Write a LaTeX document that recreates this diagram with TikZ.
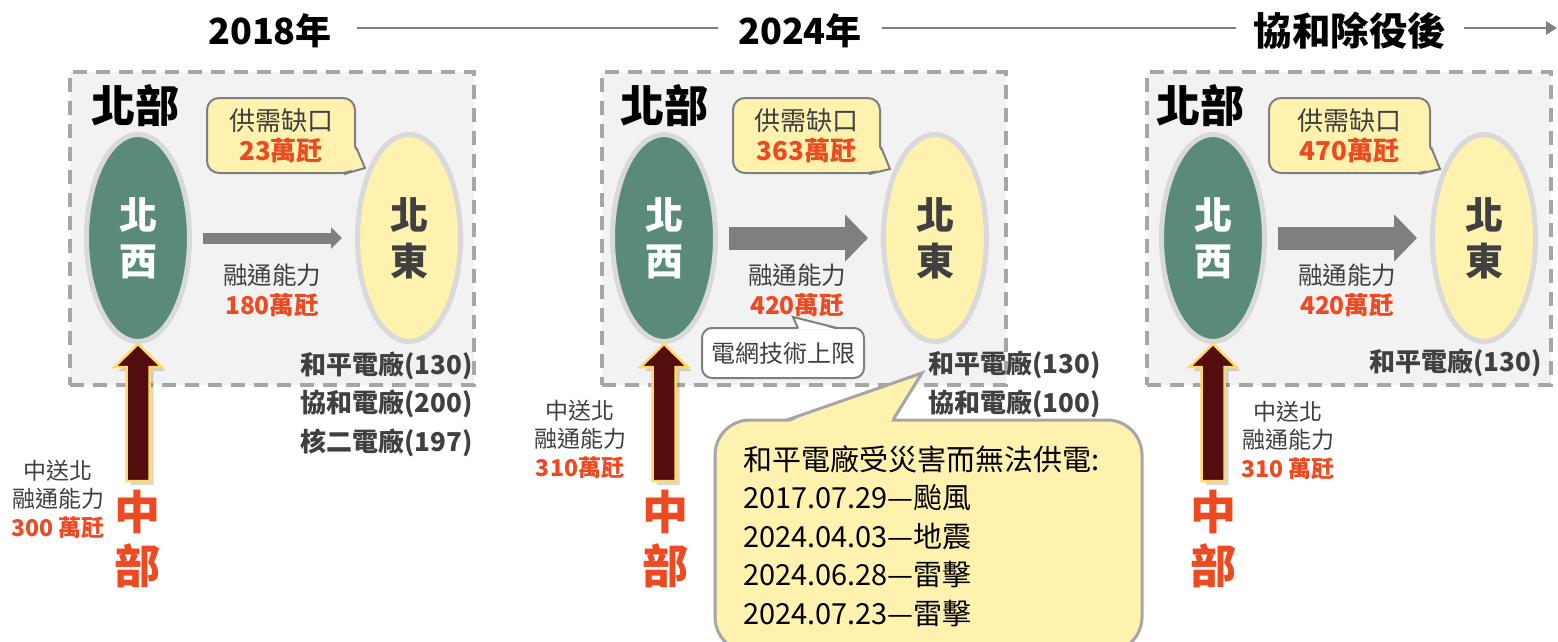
\documentclass[tikz,border=0pt]{standalone}
\usepackage{fontspec}
\setmainfont{Noto Sans CJK TC}
\usetikzlibrary{shapes.geometric,arrows.meta,calc}
\definecolor{nwgreen}{HTML}{5A8B78}
\definecolor{neyellow}{HTML}{FFF2AE}
\definecolor{ellborder}{HTML}{D9D9D9}
\definecolor{panelgray}{HTML}{F2F2F2}
\definecolor{dashgray}{HTML}{A6A6A6}
\definecolor{darktext}{HTML}{404040}
\definecolor{numred}{HTML}{EE4A22}
\definecolor{arrowgray}{HTML}{7F7F7F}
\definecolor{updark}{HTML}{540D0E}
\definecolor{upborder}{HTML}{FFD966}
\definecolor{callborder}{HTML}{7F7F7F}
\newcommand\rednum[1]{{\color{numred}\bfseries #1}}
\tikzset{
  panel/.style={draw=dashgray, fill=panelgray, line width=4pt, dash pattern=on 14pt off 9pt, minimum width=404pt, minimum height=313pt, inner sep=0pt},
  region/.style={font=\bfseries\fontsize{44}{50}\selectfont, text=black, inner sep=0pt},
  ellbase/.style={ellipse, draw=ellborder, line width=5pt, minimum width=103pt, minimum height=207pt, align=center, font=\bfseries\fontsize{38}{46}\selectfont, inner sep=0pt},
  nwell/.style={ellbase, fill=nwgreen, text=white},
  neell/.style={ellbase, fill=neyellow, text=darktext},
  gapbox/.style={draw=callborder, fill=neyellow, line width=2pt, rounded corners=12pt, minimum height=75pt, align=center, font=\fontsize{26}{30}\selectfont, text=darktext, inner sep=0pt},
  gaptail/.style={draw=callborder, line width=2pt, line join=miter},
  flowarrow/.style={draw=arrowgray, line width=23pt, -{Triangle[length=23pt,width=46pt]}, shorten <=11pt, shorten >=13pt},
  flowthin/.style={draw=arrowgray, line width=11pt, -{Triangle[length=11pt,width=21pt]}, shorten <=11pt, shorten >=13pt},
  flowtext/.style={align=center, font=\fontsize{24.5}{30}\selectfont, text=darktext, inner sep=0pt},
  plants/.style={align=right, anchor=east, font=\bfseries\fontsize{26}{38.5}\selectfont, text=darktext, inner sep=0pt},
  uparrow/.style={fill=updark, draw=upborder, line width=2.5pt, line join=miter},
  upshadow/.style={fill=black, opacity=0.15},
  midtext/.style={align=center, font=\bfseries\fontsize{46}{54}\selectfont, text=numred, inner sep=0pt},
  sendtext/.style={align=center, font=\fontsize{23}{28.5}\selectfont, text=darktext, inner sep=0pt},
  titletext/.style={font=\bfseries\fontsize{36}{40}\selectfont, text=black, inner sep=0pt},
  tline/.style={draw=arrowgray, line width=2.5pt},
  limitbox/.style={draw=callborder, fill=white, line width=2pt, rounded corners=10pt, minimum width=162pt, minimum height=50pt, font=\fontsize{24}{28}\selectfont, text=darktext, inner sep=0pt},
  notebox/.style={draw=dashgray, fill=neyellow, line width=3pt, rounded corners=35pt, minimum width=427pt, minimum height=232pt, text width=371pt, align=left, font=\fontsize{29}{38.5}\selectfont, text=black, inner sep=0pt},
}
\begin{document}
\begin{tikzpicture}[x=1pt,y=-1pt]
\useasboundingbox (0,0) rectangle (1558,641);
\clip (0,0) rectangle (1558,641);
\fill[white] (0,0) rectangle (1558,641);

% ---------- timeline ----------
\node[titletext] (t1) at (270,31) {2018年};
\node[titletext] (t2) at (800,31) {2024年};
\node[titletext, font=\bfseries\fontsize{38.5}{40}\selectfont] (t3) at (1350,31) {協和除役後};
\coordinate (tend) at (1557,28);
\draw[tline, shorten <=25pt, shorten >=20pt] ([yshift=3pt]t1.east) -- ([yshift=3pt]t2.west);
\draw[tline, shorten <=20pt, shorten >=18pt] ([yshift=3pt]t2.east) -- ([yshift=3pt]t3.west);
\draw[tline, shorten <=18pt, -{Triangle[length=11pt,width=13pt]}] ([yshift=3pt]t3.east) -- (tend);

% ---------- panel 1 (2018) ----------
\node[panel] (p1) at (272,228.5) {};
\node[region] (r1) at (135,106) {北部};
\node[nwell] (nw1) at (138,238) {北\\西};
\node[neell] (ne1) at (409,238) {北\\東};
\node[gapbox, minimum width=148pt] (g1) at (281,135.5) {供需缺口\\\rednum{23萬瓩}};
\coordinate (g1t) at (365,168);
\fill[neyellow] (353.5,146) -- (g1t) -- (342,171.5) -- (342,146) -- cycle;
\draw[gaptail] ($(g1.east)+(0,11.5)$) -- (g1t) -- ($(g1.south east)+(-12,0)$);
\draw[flowthin] (nw1) -- (ne1);
\node[flowtext] (f1) at (272,290) {融通能力\\\rednum{180萬瓩}};
\node[plants] (pl1) at (473,404) {和平電廠(130)\\協和電廠(200)\\核二電廠(197)};
\node[midtext] (m1) at (137,539) {中\\部};
\fill[upshadow] ($(nw1.south)+(4,4)$) -- ++(23.5,23) -- ++(-12,0) -- ++(0,114) -- ++(-23,0) -- ++(0,-114) -- ++(-12,0) -- cycle;
\draw[uparrow] (nw1.south) -- ++(23.5,23) -- ++(-12,0) -- ++(0,114) -- ++(-23,0) -- ++(0,-114) -- ++(-12,0) -- cycle;
\node[sendtext] (s1) at (58,499) {中送北\\融通能力\\\rednum{300 萬瓩}};

% ---------- panel 2 (2024) ----------
\node[panel] (p2) at (804,228.5) {};
\node[region] (r2) at (664,106) {北部};
\node[nwell] (nw2) at (664,238) {北\\西};
\node[neell] (ne2) at (935,238) {北\\東};
\node[gapbox, minimum width=147pt] (g2) at (806.5,135.5) {供需缺口\\\rednum{363萬瓩}};
\coordinate (g2t) at (890,169);
\fill[neyellow] (878.5,146) -- (g2t) -- (867,171.5) -- (867,146) -- cycle;
\draw[gaptail] ($(g2.east)+(0,11.5)$) -- (g2t) -- ($(g2.south east)+(-12,0)$);
\draw[flowarrow] (nw2) -- (ne2);
\node[flowtext] (f2) at (797,290) {融通能力\\\rednum{420萬瓩}};
\node[limitbox] (lim) at (783,353) {電網技術上限};
\coordinate (limt) at (793,317);
\fill[white] (799,329.3) -- (limt) -- (836,329.3) -- cycle;
\draw[gaptail] (798,328) -- (limt) -- (837,328);
\node[plants] (pl2) at (1101,384.5) {和平電廠(130)\\協和電廠(100)};
\node[midtext] (m2) at (665,539) {中\\部};
\fill[upshadow] ($(nw2.south)+(4,4)$) -- ++(23.5,23) -- ++(-12,0) -- ++(0,114) -- ++(-23,0) -- ++(0,-114) -- ++(-12,0) -- cycle;
\draw[uparrow] (nw2.south) -- ++(23.5,23) -- ++(-12,0) -- ++(0,114) -- ++(-23,0) -- ++(0,-114) -- ++(-12,0) -- cycle;
\node[sendtext] (s2) at (580,439) {中送北\\融通能力\\\rednum{310萬瓩}};
\node[notebox] (note) at (928.5,536) {和平電廠受災害而無法供電:\\2017.07.29—颱風\\2024.04.03—地震\\2024.06.28—雷擊\\2024.07.23—雷擊};
\coordinate (notet) at (922,373);
\fill[neyellow] (789,421.8) -- (notet) -- (891,421.8) -- cycle;
\draw[draw=dashgray, line width=3pt, line join=miter] (787,420) -- (notet) -- (893,420);

% ---------- panel 3 (after retirement) ----------
\node[panel] (p3) at (1348.5,228.5) {};
\node[region] (r3) at (1200,106) {北部};
\node[nwell] (nw3) at (1213,238) {北\\西};
\node[neell] (ne3) at (1484,238) {北\\東};
\node[gapbox, minimum width=161pt] (g3) at (1349.5,135.5) {供需缺口\\\rednum{470萬瓩}};
\coordinate (g3t) at (1440,169);
\fill[neyellow] (1428.5,146) -- (g3t) -- (1417,171.5) -- (1417,146) -- cycle;
\draw[gaptail] ($(g3.east)+(0,11.5)$) -- (g3t) -- ($(g3.south east)+(-12,0)$);
\draw[flowarrow] (nw3) -- (ne3);
\node[flowtext] (f3) at (1347,290) {融通能力\\\rednum{420萬瓩}};
\node[plants] (pl3) at (1542,363) {和平電廠(130)};
\node[midtext] (m3) at (1213,539) {中\\部};
\fill[upshadow] ($(nw3.south)+(4,4)$) -- ++(23.5,23) -- ++(-12,0) -- ++(0,114) -- ++(-23,0) -- ++(0,-114) -- ++(-12,0) -- cycle;
\draw[uparrow] (nw3.south) -- ++(23.5,23) -- ++(-12,0) -- ++(0,114) -- ++(-23,0) -- ++(0,-114) -- ++(-12,0) -- cycle;
\node[sendtext] (s3) at (1288,440) {中送北\\融通能力\\\rednum{310 萬瓩}};
\end{tikzpicture}
\end{document}
